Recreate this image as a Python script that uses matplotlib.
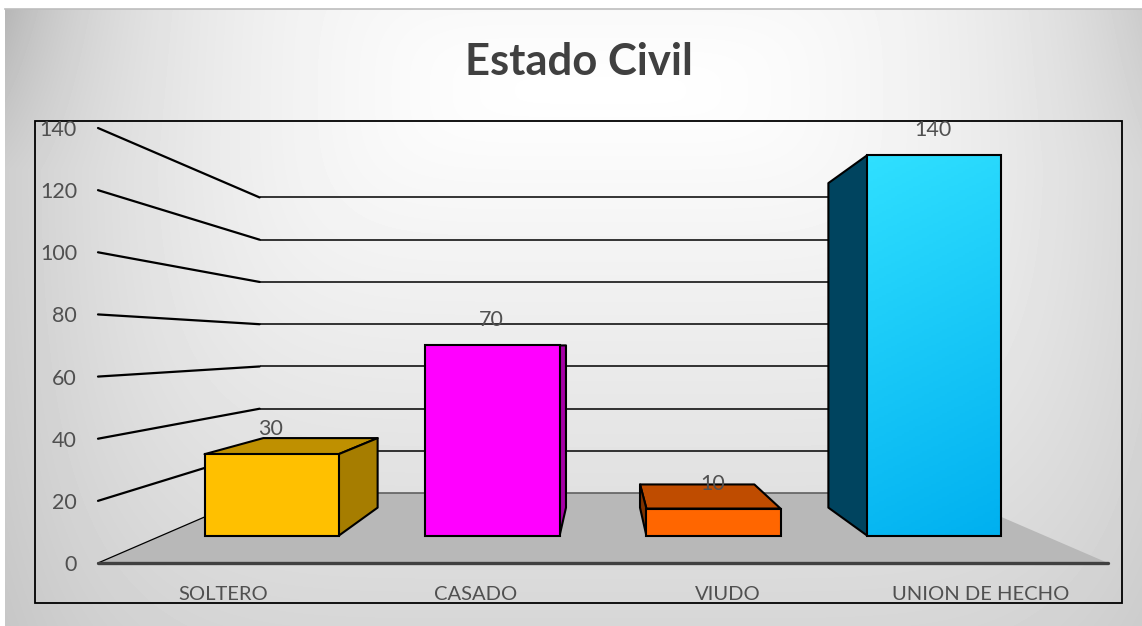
import numpy as np
import matplotlib
matplotlib.use("Agg")
import matplotlib.pyplot as plt
from matplotlib.patches import Polygon, Rectangle

plt.rcParams['font.family'] = ['Lato', 'DejaVu Sans']

TITLE = "Estado Civil"
categories = ["SOLTERO", "CASADO", "VIUDO", "UNION DE HECHO"]
values = [30, 70, 10, 140]
y_ticks = [0, 20, 40, 60, 80, 100, 120, 140]
front_colors = ["#FFC000", "#FF00FF", "#FF6600", "#00B0F0"]
side_colors = ["#A67D00", "#A600A6", "#7F3300", "#00445F"]
top_colors = ["#BF9000", "#BF00BF", "#BF4C00", "#0084B4"]

W, H = 1142, 626
fig = plt.figure(figsize=(W / 100, H / 100), dpi=100, facecolor="white")
ax = fig.add_axes([0, 0, 1, 1])
ax.set_axis_off()

# perspective model of the 3-D chart box
VX, VY = 603.0, 345.0       # vanishing point
X0, X1 = 98.0, 1108.0       # front plane of the floor
Y0, YPER = 563.0, 435.0 / 140.0
S_FRONT, S_BACK, S_WALL = 0.875, 0.746, 0.68
BAR_FRAC = 0.607


def project(x, v, s):
    """x on the front plane, v in data units, s the perspective scale."""
    return VX + (x - VX) * s, VY + (Y0 - YPER * v - VY) * s


# chart background: soft radial gradient
xx, yy = np.meshgrid(np.arange(5, W), np.arange(9, H))
dx = np.abs(xx - 600) / 580.0
dy = np.abs(yy - 90) / 530.0
a = 46 * dx ** 2
b = 40 * dy
corner = 20 * dx ** 8 * np.clip(1 - (yy - 9) / 160.0, 0, 1)
bg = np.clip(255 - (a ** 3 + b ** 3) ** (1 / 3) - corner, 0, 255)
ax.imshow(bg, cmap="gray", vmin=0, vmax=255, extent=(5, W, H, 9), aspect="auto",
          interpolation="bilinear", zorder=0)
ax.plot([5, W], [9, 9], color="#BDBDBD", lw=1.2, zorder=1)

# floor
floor = [project(X0, 0, 1), project(X1, 0, 1), project(X1, 0, S_WALL), project(X0, 0, S_WALL)]
ax.add_patch(Polygon(floor, closed=True, fc="#B8B8B8", ec="none", zorder=2))

# gridlines on the walls
for t in y_ticks:
    p, q = project(X0, t, 1), project(X0, t, S_WALL)
    c = project(X1, t, S_WALL)
    lw = 0.9 if t == 0 else 1.6
    ax.plot([p[0], q[0]], [p[1], q[1]], color="black", lw=lw, zorder=3, solid_capstyle="round")
    ax.plot([q[0], c[0]], [q[1], c[1]], color="#555555" if t == 0 else "black",
            lw=1.1, zorder=3, solid_capstyle="butt")
    ax.text(77, p[1] + 2, str(t), ha="right", va="center", fontsize=15.5, color="#505050", zorder=8)

# axis line at the front of the floor
ax.plot([X0, X1], [Y0, Y0], color="#404040", lw=2.4, zorder=4, solid_capstyle="round")

# bars
slot = (X1 - X0) / len(categories)
for i, (name, val) in enumerate(zip(categories, values)):
    cx = X0 + slot * (i + 0.5)
    xl, xr = cx - slot * BAR_FRAC / 2, cx + slot * BAR_FRAC / 2
    fbl, fbr = project(xl, 0, S_FRONT), project(xr, 0, S_FRONT)
    ftl, ftr = project(xl, val, S_FRONT), project(xr, val, S_FRONT)
    bbl, bbr = project(xl, 0, S_BACK), project(xr, 0, S_BACK)
    btl, btr = project(xl, val, S_BACK), project(xr, val, S_BACK)
    edge = dict(ec="black", lw=1.5, joinstyle="round", zorder=5)
    if ftl[1] > VY + 1:
        ax.add_patch(Polygon([ftl, ftr, btr, btl], fc=top_colors[i], **edge))
    if fbr[0] < VX:
        ax.add_patch(Polygon([fbr, bbr, btr, ftr], fc=side_colors[i], **edge))
    if fbl[0] > VX:
        ax.add_patch(Polygon([fbl, bbl, btl, ftl], fc=side_colors[i], **edge))
    front = Polygon([fbl, fbr, ftr, ftl], fc=front_colors[i], ec="none", zorder=6)
    ax.add_patch(front)
    if i == 3:
        # the tallest bar fades from a light cyan to the series blue
        gx, gy = np.meshgrid(np.linspace(0, 1, 60), np.linspace(0, 1, 200))
        g = np.clip(0.85 * gy + 0.15 * gx, 0, 1)[..., None]
        rgb = (1 - g) * np.array([48, 224, 255]) + g * np.array([0, 176, 240])
        im = ax.imshow(rgb.astype(np.uint8), extent=(ftl[0], ftr[0], fbl[1], ftl[1]),
                       aspect="auto", interpolation="bilinear", zorder=6)
        im.set_clip_path(front)
    ax.add_patch(Polygon([fbl, fbr, ftr, ftl], fc="none", ec="black", lw=1.5, zorder=7))
    ax.text((ftl[0] + ftr[0]) / 2 - 1, ftl[1] - 25, str(val), ha="center", va="center",
            fontsize=15.5, color="#505050", zorder=8)
    ax.text(cx - 1, 595, name, ha="center", va="center", fontsize=14.5, color="#505050", zorder=8)

# plot-area frame
ax.add_patch(Rectangle((35, 120.5), 1122 - 35, 603 - 120.5, fc="none", ec="black", lw=1.3, zorder=7))

ax.text(579, 62, TITLE, ha="center", va="center", fontsize=31.4, fontweight="bold", color="#404040", zorder=8)

ax.set_xlim(0, W)
ax.set_ylim(H, 0)
fig.savefig("out.png", dpi=100, facecolor="white")
